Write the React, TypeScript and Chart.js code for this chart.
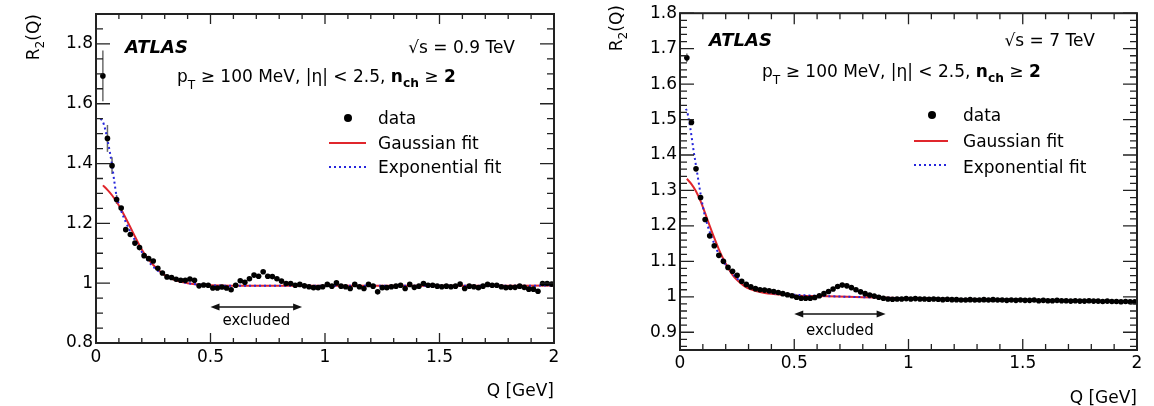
import React, { useEffect, useRef } from 'react';
import { Chart, registerables } from 'chart.js';

Chart.register(...registerables);

const FONT = '"DejaVu Sans", "Liberation Sans", sans-serif';
const CANVAS_W = 577;
const CANVAS_H = 406;

// Bin centres of Q [GeV] shared by both measurements
const qCentres = [
  0.03, 0.05, 0.07, 0.09, 0.11, 0.13, 0.15, 0.17, 0.19, 0.21,
  0.23, 0.25, 0.27, 0.29, 0.31, 0.33, 0.35, 0.37, 0.39, 0.41,
  0.43, 0.45, 0.47, 0.49, 0.51, 0.53, 0.55, 0.57, 0.59, 0.61,
  0.63, 0.65, 0.67, 0.69, 0.71, 0.73, 0.75, 0.77, 0.79, 0.81,
  0.83, 0.85, 0.87, 0.89, 0.91, 0.93, 0.95, 0.97, 0.99, 1.01,
  1.03, 1.05, 1.07, 1.09, 1.11, 1.13, 1.15, 1.17, 1.19, 1.21,
  1.23, 1.25, 1.27, 1.29, 1.31, 1.33, 1.35, 1.37, 1.39, 1.41,
  1.43, 1.45, 1.47, 1.49, 1.51, 1.53, 1.55, 1.57, 1.59, 1.61,
  1.63, 1.65, 1.67, 1.69, 1.71, 1.73, 1.75, 1.77, 1.79, 1.81,
  1.83, 1.85, 1.87, 1.89, 1.91, 1.93, 1.95, 1.97, 1.99,
];

// sqrt(s) = 0.9 TeV
const r2At900GeV = [
  1.693, 1.484, 1.393, 1.280, 1.251, 1.179, 1.163, 1.134, 1.119, 1.092,
  1.082, 1.074, 1.050, 1.034, 1.021, 1.019, 1.013, 1.010, 1.010, 1.014,
  1.010, 0.991, 0.994, 0.993, 0.984, 0.984, 0.987, 0.984, 0.978, 0.993,
  1.008, 1.003, 1.015, 1.027, 1.023, 1.038, 1.023, 1.022, 1.015, 1.007,
  0.999, 0.999, 0.993, 0.996, 0.991, 0.988, 0.985, 0.985, 0.988, 0.996,
  0.990, 1.001, 0.990, 0.988, 0.982, 0.996, 0.988, 0.982, 0.996, 0.990,
  0.971, 0.985, 0.985, 0.988, 0.990, 0.993, 0.982, 0.996, 0.986, 0.990,
  0.999, 0.993, 0.993, 0.990, 0.988, 0.990, 0.988, 0.990, 0.997, 0.982,
  0.990, 0.988, 0.985, 0.990, 0.996, 0.993, 0.993, 0.988, 0.985, 0.986,
  0.986, 0.990, 0.986, 0.980, 0.980, 0.973, 0.999, 0.999, 0.997,
];
const r2Err900GeV = [0.085, 0.045, 0.028, 0.015];
const gaussQ900 = [0.03, 0.05, 0.07, 0.09, 0.11, 0.13, 0.15, 0.17, 0.19, 0.21, 0.23, 0.26, 0.30, 0.35, 0.40, 0.45, 0.50, 0.70, 1.0, 1.5, 2.0];
const gaussR2900 = [1.327, 1.312, 1.294, 1.272, 1.246, 1.217, 1.187, 1.156, 1.126, 1.100, 1.079, 1.053, 1.027, 1.009, 1.000, 0.995, 0.993, 0.991, 0.991, 0.991, 0.992];
const expQ900 = [0.02, 0.03, 0.04, 0.05, 0.06, 0.07, 0.08, 0.09, 0.10, 0.11, 0.12, 0.13, 0.145, 0.16, 0.20, 0.24, 0.29, 0.34, 0.41, 0.50, 0.70, 1.0, 1.5, 2.0];
const expR2900 = [1.550, 1.540, 1.515, 1.480, 1.440, 1.395, 1.340, 1.290, 1.265, 1.242, 1.222, 1.204, 1.180, 1.158, 1.104, 1.063, 1.031, 1.012, 0.999, 0.993, 0.991, 0.991, 0.991, 0.992];

// sqrt(s) = 7 TeV
const r2At7TeV = [
  1.674, 1.492, 1.361, 1.280, 1.218, 1.172, 1.144, 1.117, 1.100, 1.083,
  1.072, 1.061, 1.044, 1.035, 1.028, 1.023, 1.020, 1.019, 1.017, 1.015,
  1.012, 1.009, 1.006, 1.003, 0.999, 0.996, 0.996, 0.996, 0.998, 1.003,
  1.009, 1.015, 1.022, 1.029, 1.033, 1.031, 1.026, 1.020, 1.014, 1.009,
  1.005, 1.002, 0.999, 0.996, 0.994, 0.993, 0.994, 0.994, 0.995, 0.994,
  0.995, 0.994, 0.994, 0.993, 0.994, 0.993, 0.992, 0.993, 0.992, 0.992,
  0.991, 0.991, 0.992, 0.991, 0.991, 0.992, 0.991, 0.992, 0.991, 0.991,
  0.990, 0.991, 0.990, 0.991, 0.990, 0.990, 0.991, 0.989, 0.990, 0.989,
  0.989, 0.990, 0.989, 0.989, 0.988, 0.989, 0.988, 0.988, 0.989, 0.988,
  0.988, 0.987, 0.988, 0.987, 0.987, 0.986, 0.987, 0.986, 0.986,
];
const r2Err7TeV = [0.012, 0.006];
const gaussQ7 = [0.03, 0.05, 0.07, 0.09, 0.11, 0.13, 0.15, 0.17, 0.19, 0.21, 0.23, 0.25, 0.28, 0.31, 0.36, 0.42, 0.50, 0.60, 0.80, 1.0, 1.5, 2.0];
const gaussR27 = [1.333, 1.318, 1.298, 1.270, 1.236, 1.200, 1.166, 1.134, 1.106, 1.082, 1.062, 1.047, 1.031, 1.021, 1.012, 1.007, 1.004, 1.002, 0.999, 0.996, 0.991, 0.986];
const expQ7 = [0.025, 0.03, 0.04, 0.05, 0.06, 0.07, 0.08, 0.09, 0.10, 0.11, 0.12, 0.13, 0.15, 0.17, 0.19, 0.21, 0.25, 0.30, 0.35, 0.40, 0.50, 0.60, 0.80, 1.0, 1.5, 2.0];
const expR27 = [1.530, 1.525, 1.495, 1.455, 1.410, 1.370, 1.330, 1.290, 1.255, 1.225, 1.203, 1.183, 1.150, 1.120, 1.100, 1.081, 1.052, 1.030, 1.018, 1.011, 1.006, 1.003, 0.999, 0.996, 0.991, 0.986];

// Axis ticks and the excluded resonance window
const xTicks = [0, 0.5, 1, 1.5, 2];
const yTicks900 = [0.8, 1, 1.2, 1.4, 1.6, 1.8];
const yTicks7 = [0.9, 1, 1.1, 1.2, 1.3, 1.4, 1.5, 1.6, 1.7, 1.8];
const excludedRange = [0.5, 0.9];

const legendLabels = ['data', 'Gaussian fit', 'Exponential fit'];

const GAUSS_COLOR = '#e0262c';
const EXP_COLOR = '#2626dc';

type Part = { t: string; bold?: boolean; italic?: boolean; sub?: boolean; size?: number; dy?: number };

interface PanelLayout {
  area: { left: number; top: number; right: number; bottom: number };
  xLabelPad: number;
  yTickLen: [number, number];
  xTickLen: [number, number];
  atlas: [number, number];
  energyAt: [number, number];
  cutsAt: [number, number];
  legendMarkerX: number;
  legendLine: [number, number];
  legendTextX: number;
  legendBaselines: number[];
  legendCentres: number[];
  excludedArrowY: number;
  excludedTextY: number;
  yTitle: [number, number];
  xTitle: [number, number];
}

interface PanelSpec {
  r2: number[];
  err: number[];
  gaussQ: number[];
  gaussR2: number[];
  expQ: number[];
  expR2: number[];
  yMin: number;
  yMax: number;
  yTicks: number[];
  yMinor: number;
  yMajor: number;
  energy: string;
  layout: PanelLayout;
}

const panel900: PanelSpec = {
  r2: r2At900GeV,
  err: r2Err900GeV,
  gaussQ: gaussQ900,
  gaussR2: gaussR2900,
  expQ: expQ900,
  expR2: expR2900,
  yMin: 0.8,
  yMax: 1.9,
  yTicks: yTicks900,
  yMinor: 0.05,
  yMajor: 0.2,
  energy: '0.9 TeV',
  layout: {
    area: { left: 96, top: 14, right: 554, bottom: 343 },
    xLabelPad: 4,
    yTickLen: [14, 7],
    xTickLen: [10, 5],
    atlas: [125, 53],
    energyAt: [515, 53],
    cutsAt: [177, 82],
    legendMarkerX: 348,
    legendLine: [329, 366],
    legendTextX: 378,
    legendBaselines: [124, 149, 173],
    legendCentres: [118, 143, 167],
    excludedArrowY: 307,
    excludedTextY: 325,
    yTitle: [39, 14],
    xTitle: [554, 396],
  },
};

const panel7: PanelSpec = {
  r2: r2At7TeV,
  err: r2Err7TeV,
  gaussQ: gaussQ7,
  gaussR2: gaussR27,
  expQ: expQ7,
  expR2: expR27,
  yMin: 0.85,
  yMax: 1.8,
  yTicks: yTicks7,
  yMinor: 0.02,
  yMajor: 0.1,
  energy: '7 TeV',
  layout: {
    area: { left: 103, top: 6, right: 560, bottom: 350 },
    xLabelPad: 3,
    yTickLen: [14, 7],
    xTickLen: [11, 6],
    atlas: [132, 46],
    energyAt: [518, 46],
    cutsAt: [185, 76.5],
    legendMarkerX: 355,
    legendLine: [337, 371],
    legendTextX: 386,
    legendBaselines: [121, 147, 172.5],
    legendCentres: [115, 141, 165],
    excludedArrowY: 314,
    excludedTextY: 335,
    yTitle: [45, 5],
    xTitle: [560, 403],
  },
};

function fontFor(p: Part, base: number) {
  const size = p.size ?? (p.sub ? base * 0.72 : base);
  return `${p.italic ? 'italic ' : ''}${p.bold ? 'bold ' : ''}${size}px ${FONT}`;
}

function drawRich(ctx: CanvasRenderingContext2D, parts: Part[], x: number, y: number, base: number, align: 'left' | 'right' | 'center') {
  ctx.save();
  ctx.textBaseline = 'alphabetic';
  ctx.textAlign = 'left';
  ctx.fillStyle = '#000';
  const widths = parts.map((p) => {
    ctx.font = fontFor(p, base);
    return ctx.measureText(p.t).width;
  });
  const total = widths.reduce((a, b) => a + b, 0);
  let cx = align === 'right' ? x - total : align === 'center' ? x - total / 2 : x;
  parts.forEach((p, i) => {
    ctx.font = fontFor(p, base);
    const dy = p.dy ?? (p.sub ? base * 0.38 : 0);
    ctx.fillText(p.t, cx, y + dy);
    cx += widths[i];
  });
  ctx.restore();
}

function forEachTick(scale: any, step: number, major: number, cb: (px: number, isMajor: boolean) => void) {
  const i0 = Math.ceil(scale.min / step - 1e-6);
  const i1 = Math.floor(scale.max / step + 1e-6);
  for (let i = i0; i <= i1; i++) {
    const v = i * step;
    const r = v / major;
    cb(scale.getPixelForValue(v), Math.abs(r - Math.round(r)) < 1e-6);
  }
}

function makeDecor(spec: PanelSpec) {
  const L = spec.layout;
  return {
    id: 'hepDecor',
    beforeDatasetsDraw(chart: any) {
      const { ctx, chartArea: a } = chart;
      const xs = chart.scales.x;
      const ys = chart.scales.y;
      ctx.save();
      ctx.beginPath();
      ctx.rect(a.left, a.top, a.right - a.left, a.bottom - a.top);
      ctx.clip();
      ctx.strokeStyle = '#6b6b6b';
      ctx.lineWidth = 1.5;
      spec.err.forEach((e, i) => {
        const px = xs.getPixelForValue(qCentres[i]);
        ctx.beginPath();
        ctx.moveTo(px, ys.getPixelForValue(spec.r2[i] + e));
        ctx.lineTo(px, ys.getPixelForValue(spec.r2[i] - e));
        ctx.stroke();
      });
      ctx.restore();
    },
    afterDatasetsDraw(chart: any) {
      const { ctx, chartArea: a } = chart;
      const xs = chart.scales.x;
      const ys = chart.scales.y;
      ctx.save();
      ctx.strokeStyle = '#222';
      ctx.lineWidth = 1.3;
      ctx.beginPath();
      forEachTick(xs, 0.1, 0.5, (px, maj) => {
        const len = maj ? L.xTickLen[0] : L.xTickLen[1];
        ctx.moveTo(px, a.bottom);
        ctx.lineTo(px, a.bottom - len);
        ctx.moveTo(px, a.top);
        ctx.lineTo(px, a.top + len);
      });
      forEachTick(ys, spec.yMinor, spec.yMajor, (py, maj) => {
        const len = maj ? L.yTickLen[0] : L.yTickLen[1];
        ctx.moveTo(a.left, py);
        ctx.lineTo(a.left + len, py);
        ctx.moveTo(a.right, py);
        ctx.lineTo(a.right - len, py);
      });
      ctx.stroke();
      ctx.lineWidth = 2;
      ctx.strokeRect(a.left, a.top, a.right - a.left, a.bottom - a.top);
      ctx.restore();
    },
    afterDraw(chart: any) {
      const { ctx } = chart;
      const xs = chart.scales.x;

      drawRich(ctx, [{ t: 'ATLAS', bold: true, italic: true, size: 18 }], L.atlas[0], L.atlas[1], 17, 'left');
      drawRich(ctx, [{ t: '√s = ' + spec.energy }], L.energyAt[0], L.energyAt[1], 17, 'right');
      drawRich(
        ctx,
        [
          { t: 'p' },
          { t: 'T', sub: true, dy: 7 },
          { t: ' ≥ 100 MeV, |η| < 2.5, ' },
          { t: 'n', bold: true },
          { t: 'ch', bold: true, sub: true, dy: 5 },
          { t: ' ≥ ' },
          { t: '2', bold: true },
        ],
        L.cutsAt[0],
        L.cutsAt[1],
        17,
        'left'
      );

      // legend
      ctx.save();
      ctx.fillStyle = '#000';
      ctx.beginPath();
      ctx.arc(L.legendMarkerX, L.legendCentres[0], 4, 0, Math.PI * 2);
      ctx.fill();
      ctx.lineWidth = 2;
      ctx.strokeStyle = GAUSS_COLOR;
      ctx.beginPath();
      ctx.moveTo(L.legendLine[0], L.legendCentres[1]);
      ctx.lineTo(L.legendLine[1], L.legendCentres[1]);
      ctx.stroke();
      ctx.strokeStyle = EXP_COLOR;
      ctx.setLineDash([2, 3]);
      ctx.beginPath();
      ctx.moveTo(L.legendLine[0], L.legendCentres[2]);
      ctx.lineTo(L.legendLine[1], L.legendCentres[2]);
      ctx.stroke();
      ctx.restore();
      legendLabels.forEach((label, i) => {
        drawRich(ctx, [{ t: label }], L.legendTextX, L.legendBaselines[i], 17, 'left');
      });

      // excluded window arrow
      const x0 = xs.getPixelForValue(excludedRange[0]);
      const x1 = xs.getPixelForValue(excludedRange[1]);
      const ay = L.excludedArrowY;
      ctx.save();
      ctx.strokeStyle = '#111';
      ctx.fillStyle = '#111';
      ctx.lineWidth = 1.3;
      ctx.beginPath();
      ctx.moveTo(x0 + 6, ay);
      ctx.lineTo(x1 - 6, ay);
      ctx.stroke();
      ctx.beginPath();
      ctx.moveTo(x0, ay);
      ctx.lineTo(x0 + 9, ay - 3.5);
      ctx.lineTo(x0 + 9, ay + 3.5);
      ctx.closePath();
      ctx.fill();
      ctx.beginPath();
      ctx.moveTo(x1, ay);
      ctx.lineTo(x1 - 9, ay - 3.5);
      ctx.lineTo(x1 - 9, ay + 3.5);
      ctx.closePath();
      ctx.fill();
      ctx.restore();
      drawRich(ctx, [{ t: 'excluded' }], (x0 + x1) / 2, L.excludedTextY, 15, 'center');

      // axis titles
      drawRich(ctx, [{ t: 'Q [GeV]' }], L.xTitle[0], L.xTitle[1], 17, 'right');
      ctx.save();
      ctx.translate(L.yTitle[0], L.yTitle[1]);
      ctx.rotate(-Math.PI / 2);
      drawRich(ctx, [{ t: 'R' }, { t: '2', sub: true, dy: 5 }, { t: '(Q)' }], 0, 0, 17, 'right');
      ctx.restore();
    },
  };
}

function Panel({ spec, offset }: { spec: PanelSpec; offset: number }) {
  const ref = useRef<HTMLCanvasElement | null>(null);

  useEffect(() => {
    const canvas = ref.current;
    if (!canvas) return;
    const L = spec.layout;
    const tickFont = { family: FONT, size: 17 };
    const chart = new Chart(canvas, {
      type: 'line',
      data: {
        datasets: [
          {
            label: 'data',
            data: qCentres.map((q, i) => ({ x: q, y: spec.r2[i] })),
            showLine: false,
            pointRadius: 2.8,
            pointBackgroundColor: '#000',
            pointBorderWidth: 0,
            order: 0,
          },
          {
            label: 'Exponential fit',
            data: spec.expQ.map((q, i) => ({ x: q, y: spec.expR2[i] })),
            borderColor: EXP_COLOR,
            borderWidth: 2,
            borderDash: [2, 3],
            pointRadius: 0,
            cubicInterpolationMode: 'monotone',
            fill: false,
            order: 1,
          },
          {
            label: 'Gaussian fit',
            data: spec.gaussQ.map((q, i) => ({ x: q, y: spec.gaussR2[i] })),
            borderColor: GAUSS_COLOR,
            borderWidth: 2,
            pointRadius: 0,
            cubicInterpolationMode: 'monotone',
            fill: false,
            order: 2,
          },
        ],
      } as any,
      options: {
        responsive: false,
        maintainAspectRatio: false,
        animation: false,
        devicePixelRatio: 1,
        events: [],
        layout: {
          autoPadding: false,
          padding: { left: 0, top: L.area.top, right: CANVAS_W - L.area.right, bottom: 0 },
        },
        plugins: {
          legend: { display: false },
          tooltip: { enabled: false },
        },
        scales: {
          x: {
            type: 'linear',
            min: 0,
            max: 2,
            grid: { display: false, drawTicks: false },
            border: { display: false },
            ticks: {
              font: tickFont,
              color: '#000',
              padding: L.xLabelPad,
              maxRotation: 0,
              autoSkip: false,
              callback: (v: any) => String(v),
            },
            afterBuildTicks: (s: any) => {
              s.ticks = xTicks.map((v) => ({ value: v }));
            },
            afterFit: (s: any) => {
              s.height = CANVAS_H - L.area.bottom;
            },
          },
          y: {
            type: 'linear',
            min: spec.yMin,
            max: spec.yMax,
            grid: { display: false, drawTicks: false },
            border: { display: false },
            ticks: {
              font: tickFont,
              color: '#000',
              padding: 3,
              autoSkip: false,
              callback: (v: any) => String(v),
            },
            afterBuildTicks: (s: any) => {
              s.ticks = spec.yTicks.map((v) => ({ value: v }));
            },
            afterFit: (s: any) => {
              s.width = L.area.left;
            },
          },
        },
      } as any,
      plugins: [makeDecor(spec)],
    });
    return () => chart.destroy();
  }, [spec]);

  return (
    <canvas
      ref={ref}
      width={CANVAS_W}
      height={CANVAS_H}
      style={{ position: 'absolute', left: offset, top: 0, width: CANVAS_W, height: CANVAS_H }}
    />
  );
}

export default function App() {
  return (
    <div style={{ position: 'fixed', left: 0, top: 0, width: 1154, height: 406, background: '#fff', overflow: 'hidden' }}>
      <Panel spec={panel900} offset={0} />
      <Panel spec={panel7} offset={577} />
    </div>
  );
}
